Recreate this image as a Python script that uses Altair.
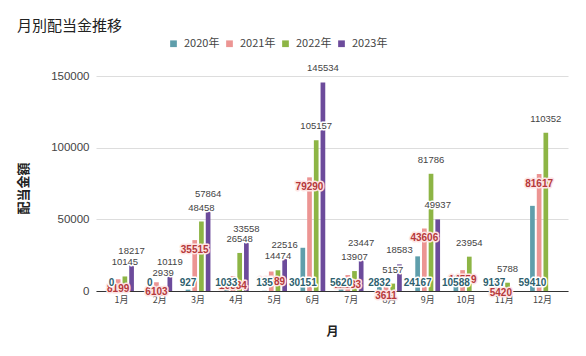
import altair as alt
import pandas as pd

months = ["1月", "2月", "3月", "4月", "5月", "6月", "7月", "8月", "9月", "10月", "11月", "12月"]
years = ["2020年", "2021年", "2022年", "2023年"]
v2020 = [0, 0, 927, 1033, 135, 30151, 5620, 2832, 24167, 10588, 9137, 59410]
v2021 = [8199, 6103, 35515, 10334, 13589, 79290, 11133, 3611, 43606, 14559, 5420, 81617]
v2022 = [10145, 2939, 48458, 26548, 14474, 105157, 13907, 5157, 81786, 23954, 5788, 110352]
v2023 = [18217, 10119, 57864, 33558, 22516, 145534, 23447, 18583, 49937, None, None, None]
colors = ["#5f9eab", "#ec9593", "#8db545", "#6c4b9b"]

rows = []
for yr, vals in zip(years, [v2020, v2021, v2022, v2023]):
    for m, v in zip(months, vals):
        rows.append({"month": m, "year": yr, "value": v, "zero": 0})
df = pd.DataFrame(rows)

CJK = "Noto Sans CJK JP"
LAT = "Liberation Sans"

yaxis = alt.Axis(
    values=[0, 50000, 100000, 150000], format="d", domain=False, ticks=False,
    grid=True, gridColor="#dddddd", gridWidth=1,
    labelFont=LAT, labelFontSize=11.5, labelColor="#444444", labelPadding=7,
    titleFont=CJK, titleFontSize=13, titleFontWeight="bold", titleColor="#222222",
    titleX=-73, titleY=112, titleAngle=270, titleAlign="center", titleBaseline="middle",
)
yscale = alt.Scale(domain=[0, 150000], nice=False, zero=True)


def yenc(field):
    return alt.Y(f"{field}:Q", scale=yscale, axis=yaxis, title="配当金額")


xenc = alt.X(
    "month:N", sort=months,
    scale=alt.Scale(domain=months, paddingInner=0.3, paddingOuter=0.317),
    axis=alt.Axis(
        labelAngle=0, ticks=False, domain=True, domainColor="#333333", domainWidth=1,
        labelFont=CJK, labelFontSize=9, labelColor="#444444", labelPadding=4,
        titleFont=CJK, titleFontSize=12, titleFontWeight="bold", titleColor="#222222",
        titleX=236, titleY=40, titleBaseline="middle",
    ),
    title="月",
)
xoff = alt.XOffset("year:N", sort=years,
                   scale=alt.Scale(domain=years, paddingInner=0.3, paddingOuter=0.15))

base = alt.Chart(df).transform_filter("isValid(datum.value)")

bars = base.mark_bar().encode(
    x=xenc, xOffset=xoff, y=yenc("value"),
    color=alt.Color(
        "year:N", scale=alt.Scale(domain=years, range=colors),
        legend=alt.Legend(
            orient="none", legendX=72, legendY=-38, direction="horizontal", title=None,
            symbolType="square", symbolSize=45, symbolStrokeWidth=0,
            labelFont=CJK, labelFontSize=11, labelColor="#444444", labelOffset=5,
            columnPadding=4,
        ),
    ),
)


def label_layers(year, field, dy, color, size, weight, halo="white"):
    sub = base.transform_filter(alt.datum.year == year)
    enc = dict(x=xenc, xOffset=xoff, y=yenc(field), text=alt.Text("value:Q", format="d"))
    h = sub.mark_text(dy=dy, baseline="middle", align="center", font=LAT, fontSize=size,
                      fontWeight=weight, stroke=halo, strokeWidth=3, strokeJoin="round",
                      fill=halo).encode(**enc)
    t = sub.mark_text(dy=dy, baseline="middle", align="center", font=LAT, fontSize=size,
                      fontWeight=weight, fill=color).encode(**enc)
    return [h, t]


layers = [bars]
layers += label_layers("2022年", "value", -14, "#444444", 9.5, "normal")
layers += label_layers("2023年", "value", -14, "#444444", 9.5, "normal")
layers += label_layers("2021年", "value", 10, "#b5383a", 10, "bold", halo="#fde4e4")
layers += label_layers("2020年", "zero", -8, "#2e5f6e", 10, "bold")

chart = alt.layer(*layers).properties(
    width=472, height=215,
    title=alt.TitleParams("月別配当金推移", anchor="start", frame="group", font=CJK,
                          fontSize=15, fontWeight="normal", color="#222222",
                          dx=-79, dy=6, offset=10),
    autosize=alt.AutoSizeParams(type="none"),
    padding={"left": 96, "top": 76, "right": 18, "bottom": 65},
).configure_view(stroke=None)

chart.save("out.html", embed_options={"renderer": "svg", "actions": False})
